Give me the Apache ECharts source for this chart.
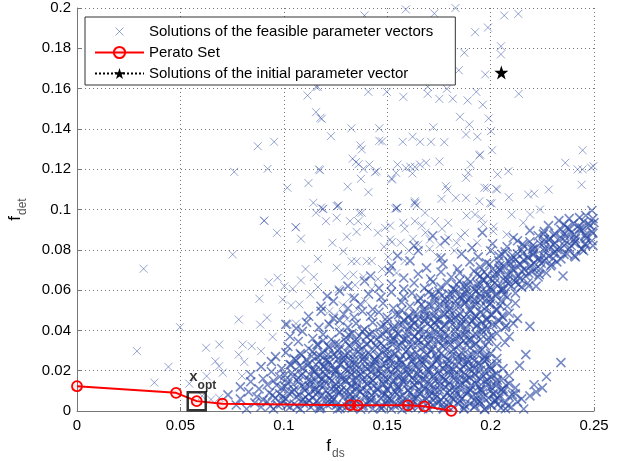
<!DOCTYPE html>
<html>
<head>
<meta charset="utf-8">
<script src="https://cdn.jsdelivr.net/npm/echarts@6/dist/echarts.min.js"></script>
<style>
  html, body { margin: 0; padding: 0; background: #fff; }
  #chart { width: 632px; height: 461px; }
</style>
</head>
<body>
<div id="chart"></div>
<script>
// axis ticks
const xTicks = [0, 0.05, 0.1, 0.15, 0.2, 0.25];
const yTicks = [0, 0.02, 0.04, 0.06, 0.08, 0.1, 0.12, 0.14, 0.16, 0.18, 0.2];

// scattered solutions (upper / left part of the cloud)
const feasibleSparse = [
  [.076,.1187],[.0874,.1314],[.0953,.1336],[.0922,.1202],[.1017,.1108],[.1119,.1131],[.1143,.1033],[.1156,.0984],
  [.0904,.0944],[.1057,.0912],[.1115,.1566],[.1156,.1609],[.1156,.1483],[.117,.1199],[.1183,.145],
  [.139,.1963],[.159,.1993],[.1728,.1973],[.183,.2],[.1925,.188],[.1987,.1903],[.2066,.1963],[.2134,.1971],
  [.205,.181],[.205,.177],[.1873,.1778],[.1846,.1691],[.1974,.167],[.2136,.1574],[.1409,.1584],[.1498,.1584],
  [.1578,.1559],[.1696,.1609],[.1696,.1574],[.1789,.1599],[.1752,.1549],[.1817,.155],[.1889,.1541],[.1931,.1584],
  [.1962,.152],[.1164,.1609],[.1177,.1455],[.1852,.146],[.1897,.1422],[.1991,.1452],[.1723,.1408],[.1327,.1403],
  [.1462,.1403],[.1228,.1364],[.1462,.1341],[.1475,.1338],[.1575,.1336],[.1623,.1361],[.1659,.1336],[.1712,.1336],
  [.1776,.1334],[.1881,.1372],[.1936,.1361],[.2002,.1389],[.2007,.1294],[.137,.1318],[.1377,.1298],[.1333,.1252],
  [.1349,.1235],[.1362,.1225],[.1414,.1223],[.1449,.119],[.1441,.1185],[.1385,.1202],[.1409,.1086],[.1309,.1113],
  [.1373,.1152],[.1175,.1195],[.155,.1223],[.159,.1206],[.1612,.1212],[.1634,.1212],[.1659,.1223],[.1688,.1232],
  [.1752,.1238],[.1543,.1182],[.1523,.1149],[.1622,.1179],[.1946,.1268],[.1949,.1273],[.1904,.1223],[.1892,.1182],
  [.1881,.1157],[.1784,.1116],[.1792,.1099],[.1763,.1053],[.1832,.1058],[.1881,.1058],[.1946,.1041],[.1982,.1107],
  [.197,.1108],[.2026,.1103],[.1998,.1032],[.2034,.1174],[.2086,.119],[.2031,.1099],[.2088,.1061],[.2182,.1074],
  [.2211,.1079],[.2281,.1099],[.2361,.1232],[.2445,.1294],[.2421,.1199],[.2445,.1199],[.244,.1123],[.2486,.1208],
  [.2497,.1215],[.1633,.1033],[.1547,.1009],[.1538,.1004],[.1634,.1041],[.1643,.102],[.118,.1009],[.1261,.1017],
  [.1264,.1021],[.1365,.0984],[.1191,.1003],[.1522,.1154],[.1546,.1008],
  [.1256,.1016],[.1256,.0959],[.1377,.0984],[.136,.0942],[.132,.0942],[.1352,.0889],[.1634,.103],[.1546,.1005],
  [.1683,.0984],[.1634,.0942],[.1578,.0934],[.1514,.092],[.149,.0909],[.1667,.092],[.1731,.0942],[.1795,.0934],
  [.1884,.097],[.1925,.0975],[.1965,.0926],[.2005,.103],[.2013,.0892],[.2078,.0876],[.2102,.0975],[.2158,.0934],
  [.2191,.0975],[.2239,.1],[.1514,.0851],[.1522,.0838],[.165,.0826],[.1707,.0851],[.1755,.0826],[.1795,.086],
  [.1836,.0835],[.1876,.0884],[.1288,.0793],[.1328,.0743],[.1352,.0743],[.1401,.0743],[.1256,.0711],[.1296,.0669],
  [.1336,.0677],
  [.0322,.0706],[.029,.0297],[.0498,.0416],[.0442,.0219],[.0374,.0141],[.0543,.0136],[.0624,.0314],[.0688,.033],
  [.0669,.0247],[.0687,.0222],[.0705,.019],[.0627,.0173],[.0753,.0777],[.0782,.0454],[.0801,.033],[.0845,.0322],
  [.089,.0297],[.0782,.028],[.0809,.0244],[.0798,.0173],[.0906,.0945],[.0967,.0884],[.1059,.0912],[.1083,.0855],
  [.1188,.1003],[.1204,.0942],[.0882,.0557],[.0927,.0639],[.097,.0661],[.0995,.0553],[.1003,.0619],[.1043,.0606],
  [.1083,.0648],[.1035,.0524],[.1075,.0529],[.1128,.0578],[.1188,.0507],[.122,.0495],[.0886,.0429],[.0919,.0463],
  [.0946,.0368],[.1019,.0429],[.1059,.0434],[.0648,.0057],[.0688,.0065],[.0605,.0075]
];

// medium-density zone left of and above the main band
const feasibleMid = [
  [.1215,.0435],[.1265,.0415],[.1245,.0475],[.1305,.0455],[.1285,.0525],[.1355,.0505],[.1325,.0565],[.1395,.0545],
  [.1265,.0605],[.1345,.0625],[.1425,.0605],[.1385,.0665],[.1455,.0655],[.1475,.0705],[.1545,.0685],[.1425,.0745],
  [.1505,.0765],[.1585,.0745],[.1605,.0795],[.1485,.0815],[.1565,.0835],[.1625,.0855],[.1705,.0805],[.1745,.0765],
  [.1825,.0795],[.1455,.0885],[.1405,.0915],[.1585,.0905],[.1685,.0885],[.1765,.0905],[.1855,.0865],[.1935,.0835],
  [.2015,.0915],[.1955,.0955],[.1165,.0615],[.1145,.0665],[.1105,.0705],[.1165,.0755],[.1235,.0835],[.1305,.0865]
];

// dense body of the cloud, read band by band
const feasibleDense = [
  [.077,.003],[.082,.001],[.086,.004],[.089,.002],[.092,.0045],[.095,.001],[.097,.003],[.1,.005],[.103,.002],[.105,.0035],
  [.108,.001],[.111,.004],[.113,.002],[.116,.005],[.118,.0015],[.121,.003],[.123,.0045],[.126,.001],[.128,.0025],[.131,.004],
  [.133,.0015],[.135,.005],[.138,.002],[.14,.0035],[.143,.001],[.145,.004],[.148,.0025],[.15,.005],[.152,.001],[.155,.003],
  [.157,.0045],[.16,.0015],[.162,.004],[.165,.002],[.167,.005],[.17,.001],[.172,.003],[.175,.0045],[.177,.0015],[.18,.004],
  [.182,.002],[.185,.005],[.187,.001],[.19,.0035],[.192,.002],[.195,.0045],[.197,.001],[.2,.003],[.202,.005],[.205,.0015],
  [.207,.004],[.21,.002],[.213,.0045],[.216,.001],
  [.073,.008],[.079,.006],[.083,.0095],[.087,.007],[.09,.0055],[.093,.009],[.096,.0065],[.098,.0085],[.101,.006],[.104,.0095],
  [.106,.007],[.109,.0055],[.112,.0085],[.114,.0065],[.117,.01],[.119,.006],[.122,.008],[.124,.0055],[.127,.0095],[.129,.007],
  [.132,.0085],[.134,.006],[.137,.0095],[.139,.0075],[.142,.0055],[.144,.009],[.147,.0065],[.149,.0085],[.151,.006],[.154,.0095],
  [.156,.007],[.159,.0055],[.161,.009],[.164,.0065],[.166,.0085],[.169,.006],[.171,.0095],[.174,.007],[.176,.0055],[.179,.009],
  [.181,.0065],[.184,.0085],[.186,.006],[.189,.0095],[.191,.007],[.194,.0055],[.196,.009],[.199,.0065],[.201,.0085],[.204,.006],
  [.206,.0095],[.209,.007],[.212,.0085],[.215,.006],[.219,.0075],[.222,.0095],
  [.079,.012],[.084,.0145],[.088,.011],[.092,.013],[.095,.015],[.099,.0115],[.102,.0135],[.105,.0105],[.107,.0145],[.11,.012],
  [.113,.014],[.115,.0105],[.118,.013],[.12,.015],[.123,.011],[.125,.0135],[.128,.0105],[.13,.0145],[.133,.012],[.135,.014],
  [.138,.011],[.14,.0135],[.143,.015],[.145,.0115],[.148,.0135],[.15,.0105],[.153,.0145],[.155,.012],[.158,.014],[.16,.0105],
  [.163,.013],[.165,.015],[.168,.011],[.17,.0135],[.173,.0105],[.175,.0145],[.178,.012],[.18,.014],[.183,.0105],[.185,.013],
  [.188,.015],[.19,.011],[.193,.0135],[.195,.0105],[.198,.0145],[.2,.012],[.203,.014],[.206,.011],[.209,.0135],[.212,.0115],
  [.221,.013],[.225,.0115],
  [.084,.018],[.09,.016],[.094,.0195],[.098,.017],[.101,.0155],[.104,.019],[.107,.0165],[.109,.0185],[.112,.0155],[.115,.0195],
  [.117,.017],[.12,.0185],[.122,.016],[.125,.02],[.127,.0175],[.13,.0155],[.132,.019],[.135,.0165],[.137,.0185],[.14,.0155],
  [.142,.0195],[.145,.017],[.147,.0185],[.15,.016],[.152,.0195],[.155,.0175],[.157,.0155],[.16,.019],[.162,.0165],[.165,.0185],
  [.167,.0155],[.17,.0195],[.172,.017],[.175,.0185],[.177,.016],[.18,.0195],[.182,.0175],[.185,.0155],[.187,.019],[.19,.0165],
  [.192,.0185],[.195,.016],[.197,.0195],[.2,.017],[.203,.0185],[.206,.016],[.209,.0175],[.227,.017],
  [.089,.022],[.094,.0245],[.099,.021],[.103,.023],[.106,.025],[.109,.0215],[.112,.0235],[.114,.0205],[.117,.0245],[.119,.022],
  [.122,.024],[.124,.0205],[.127,.023],[.129,.025],[.132,.021],[.134,.0235],[.137,.0205],[.139,.0245],[.142,.022],[.144,.024],
  [.147,.021],[.149,.0235],[.152,.025],[.154,.0215],[.157,.0235],[.159,.0205],[.162,.0245],[.164,.022],[.167,.024],[.169,.0205],
  [.172,.023],[.174,.025],[.177,.021],[.179,.0235],[.182,.0205],[.184,.0245],[.187,.022],[.189,.024],[.192,.021],[.194,.0235],
  [.197,.025],[.2,.0215],[.203,.0235],[.206,.021],[.214,.0225],[.234,.024],
  [.096,.027],[.101,.029],[.105,.026],[.108,.0285],[.111,.0255],[.114,.0295],[.116,.027],[.119,.029],[.121,.0255],[.124,.028],
  [.126,.03],[.129,.0265],[.131,.0285],[.134,.0255],[.136,.0295],[.139,.027],[.141,.029],[.144,.0255],[.146,.028],[.149,.03],
  [.151,.0265],[.154,.0285],[.156,.0255],[.159,.0295],[.161,.027],[.164,.029],[.166,.0255],[.169,.028],[.171,.03],[.174,.0265],
  [.176,.0285],[.179,.0255],[.181,.0295],[.184,.027],[.186,.029],[.189,.0255],[.191,.028],[.194,.03],[.197,.0265],[.2,.0285],
  [.203,.026],[.217,.028],
  [.102,.032],[.107,.0345],[.112,.031],[.116,.033],[.119,.035],[.122,.0315],[.125,.0335],[.127,.0305],[.13,.0345],[.132,.032],
  [.135,.034],[.137,.0305],[.14,.033],[.142,.035],[.145,.0315],[.147,.0335],[.15,.0305],[.152,.0345],[.155,.032],[.157,.034],
  [.16,.0305],[.162,.033],[.165,.035],[.167,.0315],[.17,.0335],[.172,.0305],[.175,.0345],[.177,.032],[.18,.034],[.182,.0305],
  [.185,.033],[.187,.035],[.19,.0315],[.193,.0335],[.196,.0305],[.199,.0345],[.203,.032],[.207,.034],
  [.103,.037],[.109,.0395],[.114,.036],[.119,.038],[.123,.0355],[.127,.039],[.13,.0365],[.133,.0385],[.135,.0355],[.138,.0395],
  [.14,.037],[.143,.039],[.145,.0355],[.148,.038],[.15,.04],[.153,.0365],[.155,.0385],[.158,.0355],[.16,.0395],[.163,.037],
  [.165,.039],[.168,.0355],[.17,.038],[.173,.04],[.175,.0365],[.178,.0385],[.18,.0355],[.183,.0395],[.185,.037],[.188,.039],
  [.19,.0355],[.193,.038],[.196,.04],[.199,.0365],[.203,.0385],[.209,.037],
  [.101,.043],[.106,.041],[.111,.044],[.117,.0415],[.122,.043],[.127,.045],[.131,.0415],[.135,.0435],[.139,.0405],[.143,.044],
  [.147,.042],[.15,.0445],[.153,.041],[.156,.043],[.158,.045],[.161,.0415],[.163,.0435],[.166,.0405],[.168,.0445],[.171,.042],
  [.173,.044],[.176,.0405],[.178,.043],[.181,.045],[.183,.0415],[.186,.0435],[.188,.0405],[.191,.0445],[.193,.042],[.196,.044],
  [.198,.0405],[.201,.043],[.204,.045],[.207,.0415],[.211,.0435],[.219,.042],
  [.112,.047],[.118,.0495],[.124,.046],[.129,.048],[.134,.0465],[.138,.0495],[.142,.047],[.146,.049],[.15,.0465],[.154,.048],
  [.157,.05],[.16,.0465],[.163,.0485],[.165,.0455],[.168,.0495],[.17,.047],[.173,.049],[.175,.0455],[.178,.048],[.18,.05],
  [.183,.0465],[.185,.0485],[.188,.0455],[.19,.0495],[.193,.047],[.195,.049],[.198,.0455],[.2,.048],[.203,.05],[.206,.0465],
  [.209,.0485],[.213,.046],
  [.118,.052],[.124,.0545],[.131,.051],[.137,.053],[.143,.0505],[.148,.0535],[.153,.051],[.157,.054],[.161,.052],[.165,.0545],
  [.168,.0505],[.17,.053],[.173,.055],[.175,.0515],[.178,.0535],[.18,.0505],[.183,.0545],[.185,.052],[.188,.054],[.19,.0505],
  [.193,.053],[.195,.055],[.198,.0515],[.2,.0535],[.203,.0505],[.205,.0545],[.208,.052],[.212,.0535],
  [.121,.057],[.127,.0595],[.134,.056],[.141,.058],[.147,.0565],[.152,.059],[.158,.0565],[.162,.0585],[.166,.056],[.17,.059],
  [.173,.057],[.175,.0595],[.178,.0555],[.18,.058],[.183,.06],[.185,.0565],[.188,.0585],[.19,.0555],[.193,.0595],[.195,.057],
  [.198,.059],[.2,.0555],[.203,.058],[.206,.06],[.208,.0565],[.212,.0585],
  [.131,.062],[.139,.0645],[.146,.061],[.152,.063],[.158,.0605],[.163,.0635],[.168,.061],[.172,.064],[.176,.0615],[.179,.0635],
  [.182,.0605],[.185,.0645],[.187,.062],[.19,.064],[.192,.0605],[.195,.063],[.197,.065],[.2,.0615],[.202,.0635],[.205,.0605],
  [.207,.0645],[.21,.062],[.212,.064],[.215,.0615],[.218,.0635],[.222,.062],
  [.142,.067],[.151,.0695],[.158,.066],[.165,.068],[.171,.0655],[.176,.069],[.181,.0665],[.185,.0685],[.189,.0655],[.192,.0695],
  [.195,.067],[.197,.069],[.2,.0655],[.202,.068],[.205,.07],[.207,.0665],[.21,.0685],[.212,.0655],[.215,.0695],[.217,.067],
  [.22,.069],[.223,.0665],[.227,.0685],[.235,.067],
  [.152,.072],[.161,.0745],[.169,.071],[.177,.073],[.184,.0705],[.19,.074],[.195,.0715],[.198,.0735],[.201,.0705],[.204,.0745],
  [.206,.072],[.209,.074],[.211,.0705],[.214,.073],[.216,.075],[.219,.0715],[.221,.0735],[.224,.0705],[.226,.0745],[.229,.072],
  [.232,.074],
  [.155,.077],[.165,.0795],[.176,.076],[.186,.078],[.194,.0765],[.2,.0795],[.204,.077],[.207,.079],[.21,.0755],[.213,.078],
  [.215,.08],[.218,.0765],[.221,.0785],[.223,.0755],[.226,.0795],[.228,.077],[.231,.079],[.234,.0755],[.237,.078],[.241,.0765],
  [.245,.0795],
  [.163,.082],[.178,.0845],[.191,.081],[.201,.083],[.208,.0815],[.213,.0845],[.216,.082],[.219,.084],[.221,.0805],[.224,.083],
  [.226,.085],[.229,.0815],[.231,.0835],[.234,.0805],[.236,.0845],[.239,.082],[.241,.084],[.244,.0805],[.246,.083],[.249,.0845],
  [.172,.087],[.196,.0885],[.211,.086],[.219,.0895],[.223,.087],[.226,.089],[.229,.0855],[.231,.088],[.234,.09],[.236,.0865],
  [.239,.0885],[.241,.0855],[.244,.0895],[.246,.087],[.249,.089],
  [.228,.092],[.233,.0945],[.237,.091],[.24,.093],[.243,.0905],[.245,.094],[.248,.092],[.25,.0935],[.238,.0955],
  [.246,.097],[.249,.0995],[.243,.096]
];

// second layer filling the darkest part of the cloud
const feasibleCore = [
  [.0935,.0025],[.0985,.0035],[.1015,.0028],[.1065,.0022],[.1095,.0038],[.1145,.0031],[.1175,.0024],[.1225,.0036],[.1255,.0029],[.1305,.0021],
  [.1335,.0033],[.1385,.0027],[.1415,.0038],[.1465,.0022],[.1495,.0034],[.1535,.0028],[.1565,.0036],[.1615,.0023],[.1645,.0031],[.1695,.0037],
  [.1725,.0026],[.1765,.0033],[.1795,.0021],[.1845,.0035],[.1875,.0029],[.1925,.0024],[.1955,.0037],[.2005,.0028],[.2035,.0033],[.2085,.0026],
  [.0945,.0078],[.0995,.0072],[.1025,.0088],[.1075,.0081],[.1105,.0068],[.1155,.0083],[.1185,.0076],[.1235,.0069],[.1265,.0086],[.1315,.0074],
  [.1345,.0081],[.1395,.0068],[.1425,.0079],[.1475,.0088],[.1505,.0072],[.1545,.0083],[.1575,.0077],[.1625,.0069],[.1655,.0087],[.1705,.0075],
  [.1735,.0082],[.1775,.0068],[.1805,.0079],[.1855,.0073],[.1885,.0086],[.1935,.0078],[.1965,.0071],[.2015,.0083],[.2045,.0076],[.2105,.0081],
  [.0965,.0128],[.1005,.0122],[.1045,.0133],[.1085,.0125],[.1125,.0121],[.1165,.0134],[.1195,.0127],[.1245,.0122],[.1275,.0131],[.1325,.0126],
  [.1355,.0121],[.1405,.0129],[.1435,.0124],[.1485,.0132],[.1515,.0127],[.1555,.0121],[.1595,.0133],[.1635,.0126],[.1675,.0122],[.1715,.0131],
  [.1755,.0125],[.1795,.0129],[.1825,.0121],[.1865,.0134],[.1905,.0127],[.1945,.0122],[.1985,.0131],[.2025,.0125],[.2075,.0128],
  [.1005,.0178],[.1045,.0172],[.1085,.0176],[.1125,.0181],[.1165,.0173],[.1205,.0177],[.1245,.0182],[.1285,.0174],[.1325,.0179],[.1365,.0171],
  [.1405,.0177],[.1445,.0183],[.1485,.0175],[.1525,.0179],[.1565,.0172],[.1605,.0178],[.1645,.0183],[.1685,.0174],[.1725,.0178],[.1765,.0171],
  [.1805,.0176],[.1845,.0182],[.1885,.0175],[.1925,.0179],[.1965,.0173],[.2015,.0177],
  [.1035,.0228],[.1075,.0222],[.1115,.0226],[.1155,.0231],[.1195,.0223],[.1235,.0227],[.1275,.0232],[.1315,.0224],[.1355,.0229],[.1395,.0221],
  [.1435,.0227],[.1475,.0233],[.1515,.0225],[.1555,.0229],[.1595,.0222],[.1635,.0228],[.1675,.0233],[.1715,.0224],[.1755,.0228],[.1795,.0221],
  [.1835,.0226],[.1875,.0232],[.1915,.0225],[.1955,.0229],[.1995,.0223],
  [.1085,.0278],[.1135,.0272],[.1175,.0276],[.1215,.0281],[.1255,.0273],[.1295,.0277],[.1335,.0282],[.1375,.0274],[.1415,.0279],[.1455,.0271],
  [.1495,.0277],[.1535,.0283],[.1575,.0275],[.1615,.0279],[.1655,.0272],[.1695,.0278],[.1735,.0283],[.1775,.0274],[.1815,.0278],[.1855,.0271],
  [.1895,.0276],[.1935,.0282],[.1975,.0275],
  [.1165,.0328],[.1215,.0322],[.1265,.0331],[.1315,.0325],[.1365,.0322],[.1405,.0333],[.1445,.0327],[.1485,.0321],[.1525,.0329],[.1565,.0324],
  [.1605,.0332],[.1645,.0326],[.1685,.0321],[.1725,.0329],[.1765,.0325],[.1805,.0331],[.1845,.0323],[.1885,.0327],[.1925,.0332],[.1975,.0324],
  [.1315,.0378],[.1365,.0372],[.1415,.0381],[.1465,.0375],[.1515,.0372],[.1555,.0383],[.1595,.0377],[.1635,.0371],[.1675,.0379],[.1715,.0374],
  [.1755,.0382],[.1795,.0376],[.1835,.0371],[.1875,.0379],[.1915,.0375],[.1955,.0381],[.2005,.0373],
  [.1485,.0428],[.1535,.0422],[.1575,.0431],[.1615,.0425],[.1655,.0422],[.1695,.0433],[.1735,.0427],[.1775,.0421],[.1815,.0429],[.1855,.0424],
  [.1895,.0432],[.1935,.0426],[.1975,.0421],[.2025,.0429],[.2075,.0424],
  [.1555,.0478],[.1605,.0472],[.1645,.0481],[.1685,.0475],[.1725,.0472],[.1765,.0483],[.1805,.0477],[.1845,.0471],[.1885,.0479],[.1925,.0474],
  [.1965,.0482],[.2005,.0476],[.2055,.0471],
  [.1665,.0528],[.1715,.0522],[.1755,.0531],[.1795,.0525],[.1835,.0522],[.1875,.0533],[.1915,.0527],[.1955,.0521],[.1995,.0529],[.2045,.0524],
  [.1715,.0578],[.1765,.0572],[.1815,.0581],[.1865,.0575],[.1905,.0572],[.1945,.0583],[.1985,.0577],[.2025,.0571],[.2065,.0579],
  [.1835,.0628],[.1885,.0622],[.1935,.0631],[.1985,.0625],[.2035,.0622],[.2085,.0633],[.2135,.0627],[.2185,.0621],
  [.1935,.0678],[.1985,.0672],[.2035,.0681],[.2085,.0675],[.2135,.0672],[.2185,.0683],[.2235,.0677],
  [.1995,.0728],[.2045,.0722],[.2095,.0731],[.2145,.0725],[.2195,.0722],[.2245,.0733],[.2295,.0727],
  [.2055,.0778],[.2105,.0772],[.2155,.0781],[.2205,.0775],[.2255,.0772],[.2305,.0783],[.2355,.0777],[.2405,.0771],
  [.2155,.0828],[.2205,.0822],[.2255,.0831],[.2305,.0825],[.2355,.0822],[.2405,.0833],[.2455,.0827],[.2495,.0821],
  [.2255,.0878],[.2305,.0872],[.2355,.0881],[.2405,.0875],[.2455,.0872],[.2495,.0883],[.2355,.0925],[.2425,.0918],[.2475,.0928],[.2495,.0955]
];

// third layer for the solid areas (bottom block and diagonal band)
const feasibleDeep = [
  [.1122,.0052],[.1172,.0011],[.1222,.0057],[.1272,.0013],[.1322,.0054],[.1372,.0009],[.1422,.0056],[.1472,.0012],[.1522,.0053],[.1572,.0008],
  [.1622,.0057],[.1672,.0011],[.1722,.0054],[.1772,.0009],[.1822,.0056],[.1872,.0013],[.1922,.0052],[.1972,.0008],[.2022,.0055],[.2072,.0011],
  [.1102,.0102],[.1152,.0108],[.1202,.0101],[.1252,.0107],[.1302,.0103],[.1352,.0109],[.1402,.0101],[.1452,.0106],[.1502,.0104],[.1552,.0108],
  [.1602,.0102],[.1652,.0107],[.1702,.0101],[.1752,.0106],[.1802,.0103],[.1852,.0108],[.1902,.0102],[.1952,.0107],[.2002,.0103],[.2052,.0106],
  [.1132,.0152],[.1182,.0158],[.1232,.0151],[.1282,.0157],[.1332,.0153],[.1382,.0159],[.1432,.0151],[.1482,.0156],[.1532,.0154],[.1582,.0158],
  [.1632,.0152],[.1682,.0157],[.1732,.0151],[.1782,.0156],[.1832,.0153],[.1882,.0158],[.1932,.0152],[.1982,.0157],[.2032,.0153],
  [.1152,.0202],[.1202,.0208],[.1252,.0201],[.1302,.0207],[.1352,.0203],[.1402,.0209],[.1452,.0201],[.1502,.0206],[.1552,.0204],[.1602,.0208],
  [.1652,.0202],[.1702,.0207],[.1752,.0201],[.1802,.0206],[.1852,.0203],[.1902,.0208],[.1952,.0202],[.2002,.0206],
  [.1202,.0252],[.1262,.0258],[.1322,.0251],[.1382,.0257],[.1442,.0253],[.1502,.0259],[.1562,.0251],[.1622,.0256],[.1682,.0254],[.1742,.0258],
  [.1802,.0252],[.1862,.0257],[.1922,.0251],[.1982,.0256],
  [.1532,.0352],[.1592,.0358],[.1652,.0351],[.1712,.0357],[.1772,.0353],[.1832,.0359],[.1892,.0351],[.1952,.0356],
  [.1622,.0452],[.1682,.0458],[.1742,.0451],[.1802,.0457],[.1862,.0453],[.1922,.0459],[.1982,.0451],
  [.1802,.0552],[.1862,.0558],[.1922,.0551],[.1982,.0557],[.1882,.0602],[.1942,.0608],[.2002,.0601],[.2062,.0607],
  [.1962,.0652],[.2022,.0658],[.2082,.0651],[.2142,.0657],[.2042,.0702],[.2102,.0708],[.2162,.0701],[.2222,.0707],
  [.2122,.0752],[.2182,.0758],[.2242,.0751],[.2302,.0757],[.2202,.0802],[.2262,.0808],[.2322,.0801],[.2382,.0807],
  [.2442,.0803],[.2282,.0852],[.2342,.0858],[.2402,.0851],[.2462,.0857],[.2382,.0902],[.2442,.0908]
];

// Pareto front (fds, fdet)
const paretoX = [0, 0.0479, 0.0579, 0.0703, 0.1322, 0.1357, 0.1600, 0.1680, 0.1810];
const paretoY = [0.0123, 0.0090, 0.0049, 0.0036, 0.0029, 0.0028, 0.0028, 0.0023, 0.0001];

// initial parameter vector
const initialPoint = [0.2052, 0.1680];
// chosen optimum
const xoptPoint = [0.0579, 0.0049];

const feasibleName = 'Solutions of the feasible parameter vectors';
const crossPath = 'path://M0,0L10,10M10,0L0,10';
const crossLegend = 'path://M0,0M3,3L11,11M11,3L3,11M14,14';
const starPath = 'path://M50,0L61.8,35.1L98.8,35.1L68.9,56.8L80.2,91.9L50,70.2L19.8,91.9L31.1,56.8L1.2,35.1L38.2,35.1Z';

const font = '"Liberation Sans", Arial, sans-serif';
const blueLight = 'rgba(42,70,160,0.62)';
const blueDark = 'rgba(42,72,162,0.8)';

const subRich = {
  f: { fontSize: 17, color: '#000', lineHeight: 18, padding: [0, 0, 7, 0] },
  s: { fontSize: 12, color: '#555', lineHeight: 14, padding: [8, 0, 0, 1] }
};

const chart = echarts.init(document.getElementById('chart'));
chart.setOption({
  animation: false,
  textStyle: { fontFamily: font },
  grid: { left: 77, right: 38, top: 8, bottom: 50, outerBoundsMode: 'none', containLabel: false },
  legend: {
    orient: 'vertical',
    left: 85,
    top: 17,
    padding: [7, 22, 4, 9],
    itemWidth: 49,
    itemHeight: 14,
    itemGap: 6,
    backgroundColor: '#fff',
    borderColor: '#333',
    borderWidth: 1,
    textStyle: { fontSize: 15, color: '#000', fontFamily: font },
    data: [
      { name: feasibleName, icon: crossLegend, itemStyle: { borderWidth: 1 } },
      { name: 'Perato Set' },
      { name: 'Solutions of the initial parameter vector' }
    ]
  },
  xAxis: {
    type: 'value',
    min: xTicks[0],
    max: xTicks[xTicks.length - 1],
    interval: 0.05,
    name: '{f|f}{s|ds}',
    nameLocation: 'middle',
    nameGap: 27,
    nameTextStyle: { rich: subRich },
    axisLine: { lineStyle: { color: '#777', width: 1 } },
    axisTick: { inside: true, length: 4, lineStyle: { color: '#777' } },
    axisLabel: { fontSize: 15, color: '#000', margin: 7, formatter: v => String(parseFloat(v.toFixed(3))) },
    splitLine: { show: true, lineStyle: { color: '#777', type: [1, 3], width: 1 } }
  },
  yAxis: {
    type: 'value',
    min: yTicks[0],
    max: yTicks[yTicks.length - 1],
    interval: 0.02,
    name: '{f|f}{s|det}',
    nameLocation: 'middle',
    nameRotate: 90,
    nameGap: 44,
    nameTextStyle: { rich: subRich },
    axisLine: { show: true, lineStyle: { color: '#777', width: 1 } },
    axisTick: { show: true, inside: true, length: 4, lineStyle: { color: '#777' } },
    axisLabel: { fontSize: 15, color: '#000', margin: 6, formatter: v => String(parseFloat(v.toFixed(3))) },
    splitLine: { show: true, lineStyle: { color: '#777', type: [1, 3], width: 1 } }
  },
  series: [
    {
      name: feasibleName,
      type: 'scatter',
      symbol: crossPath,
      symbolSize: 8,
      itemStyle: { color: blueLight, borderColor: blueLight, borderWidth: 1 },
      emphasis: { disabled: true },
      data: feasibleMid.concat(feasibleSparse)
    },
    {
      name: feasibleName,
      type: 'scatter',
      symbol: crossPath,
      symbolSize: 9,
      itemStyle: { color: blueDark, borderColor: blueDark, borderWidth: 1.6 },
      emphasis: { disabled: true },
      data: feasibleDense.concat(feasibleCore, feasibleDeep)
    },
    {
      name: 'Perato Set',
      type: 'line',
      symbol: 'circle',
      symbolSize: 10,
      lineStyle: { color: '#ff0000', width: 2 },
      itemStyle: { color: 'rgba(255,0,0,0.08)', borderColor: '#ff0000', borderWidth: 1.8 },
      data: paretoX.map((x, i) => [x, paretoY[i]]),
      z: 3
    },
    {
      name: 'Solutions of the initial parameter vector',
      type: 'line',
      symbol: starPath,
      symbolSize: 14,
      lineStyle: { color: '#000', type: 'dotted', width: 1.5 },
      itemStyle: { color: '#000' },
      data: [initialPoint],
      z: 4
    },
    {
      name: 'xopt',
      type: 'scatter',
      symbol: 'rect',
      symbolSize: 18,
      itemStyle: { color: 'rgba(0,0,0,0)', borderColor: '#000', borderWidth: 2.5 },
      label: {
        show: true,
        position: 'top',
        distance: 0,
        offset: [6, -2],
        formatter: '{a|x}{b|opt}',
        rich: {
          a: { fontSize: 15, fontWeight: 'bold', color: '#000', lineHeight: 16, padding: [0, 0, 9, 0] },
          b: { fontSize: 12, fontWeight: 'bold', color: '#000', lineHeight: 14, padding: [9, 0, 0, 0] }
        }
      },
      data: [xoptPoint],
      z: 5
    }
  ]
});
</script>
</body>
</html>
